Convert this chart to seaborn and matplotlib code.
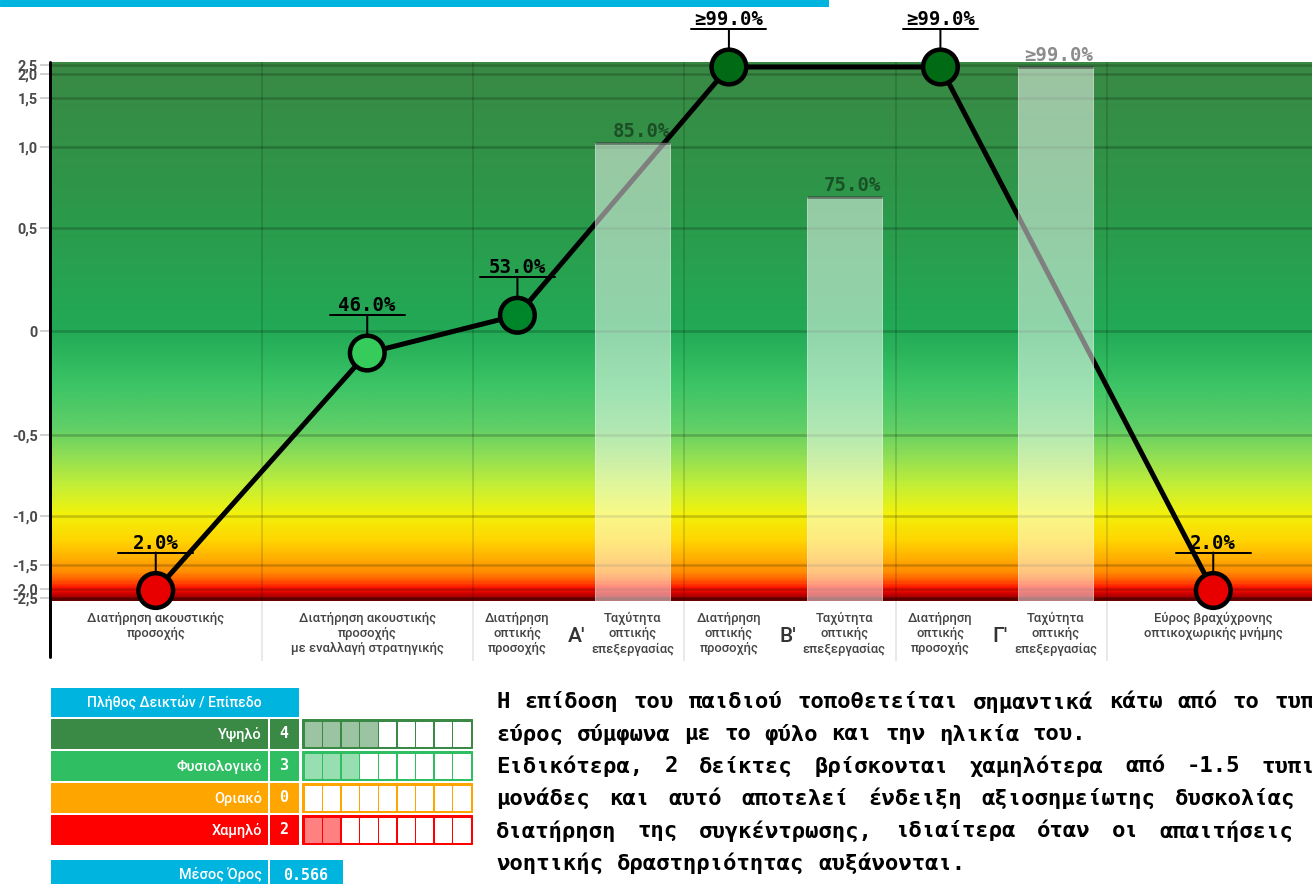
import textwrap
from math import erf, sqrt

import numpy as np
import matplotlib.pyplot as plt
import seaborn as sns
from matplotlib.colors import LinearSegmentedColormap, to_rgb
from matplotlib.patches import Rectangle
from matplotlib.transforms import offset_copy

# ---- data
columns = ['Διατήρηση ακουστικής\nπροσοχής',
           'Διατήρηση ακουστικής\nπροσοχής\nμε εναλλαγή στρατηγικής',
           'Α′', 'Β′', 'Γ′',
           'Εύρος βραχύχρονης\nοπτικοχωρικής μνήμης']
split_columns = ['Α′', 'Β′', 'Γ′']
split_left = 'Διατήρηση\nοπτικής\nπροσοχής'
split_right = 'Ταχύτητα\nοπτικής\nεπεξεργασίας'

point_pct = [2.0, 46.0, 53.0, 99.0, 99.0, 2.0]
point_text = ['2.0%', '46.0%', '53.0%', '≥99.0%', '≥99.0%', '2.0%']
point_colors = ['#e80000', '#36cc5c', '#00862a', '#006b14', '#006b14', '#e80000']

bar_pct = [85.0, 75.0, 99.0]
bar_text = ['85.0%', '75.0%', '≥99.0%']

z_ticks = [-2.5, -2.0, -1.5, -1.0, -0.5, 0, 0.5, 1.0, 1.5, 2.0, 2.5]
z_labels = ['-2,5', '-2,0', '-1,5', '-1,0', '-0,5', '0', '0,5', '1,0', '1,5', '2,0', '2,5']

levels = ['Υψηλό', 'Φυσιολογικό', 'Οριακό', 'Χαμηλό']
level_counts = [4, 3, 0, 2]
level_colors = ['#3a8a45', '#2fbe62', '#ffa500', '#ff0000']
n_indices = 9
mean_score = 0.566

paragraphs = [
    'Η επίδοση του παιδιού τοποθετείται σημαντικά κάτω από το τυπικό '
    'εύρος σύμφωνα με το φύλο και την ηλικία του.',
    'Ειδικότερα, 2 δείκτες βρίσκονται χαμηλότερα από -1.5 τυπικές '
    'μονάδες και αυτό αποτελεί ένδειξη αξιοσημείωτης δυσκολίας στη '
    'διατήρηση της συγκέντρωσης, ιδιαίτερα όταν οι απαιτήσεις της '
    'νοητικής δραστηριότητας αυξάνονται.',
]

# background colour stops (percentile, colour)
bg_stops = [(0, '#6e0000'), (1.0, '#d00000'), (2.2, '#ff1500'), (3.5, '#ff5500'),
            (5, '#ff8a00'), (7.6, '#ffae00'), (11, '#ffd500'), (16, '#f2f20c'),
            (21, '#c5ef35'), (26, '#96e052'), (32, '#60cf66'), (40, '#3cc466'),
            (50, '#22aa56'), (75, '#2d9749'), (100, '#3a8944')]

sns.set_theme(style='white')
plt.rcParams['font.family'] = ['Roboto', 'DejaVu Sans']
MONO = ['DejaVu Sans Mono']
CYAN = '#00b4e0'

W, H = 1312, 884
fig = plt.figure(figsize=(W / 72, H / 72), dpi=72)

# ---- main chart
ax_left, ax_bottom, ax_top = 50, 601.3, 61.6
col_w = 211.5
xmax = (W - ax_left) / col_w
ax = fig.add_axes([ax_left / W, 1 - ax_bottom / H, 1 - ax_left / W, (ax_bottom - ax_top) / H])

cmap = LinearSegmentedColormap.from_list('bg', [(p / 100, c) for p, c in bg_stops])
ax.imshow(np.linspace(0, 100, 600).reshape(-1, 1), extent=[0, xmax, 0, 100], origin='lower',
          aspect='auto', cmap=cmap, vmin=0, vmax=100, zorder=0)

tick_pct = [100 * 0.5 * (1 + erf(z / sqrt(2))) for z in z_ticks]
ax.hlines(tick_pct, 0, xmax, colors='black', alpha=0.2, lw=2.5, zorder=1)
ax.vlines(range(1, len(columns)), 0, 100, colors='black', alpha=0.13, lw=2, zorder=1)

point_x = [i + (0.21 if c in split_columns else 0.5) for i, c in enumerate(columns)]
bar_x = [i + 0.755 for i, c in enumerate(columns) if c in split_columns]
bar_w = 0.355

sns.lineplot(x=point_x, y=point_pct, color='black', linewidth=5, sort=False, ax=ax, zorder=3)

ax.bar(bar_x, bar_pct, width=bar_w, color='white', alpha=0.5, zorder=4)
for bx, bp, bt in zip(bar_x, bar_pct, bar_text):
    ax.hlines(bp, bx - bar_w / 2, bx + bar_w / 2, colors='#333333', alpha=0.6, lw=2.5, zorder=4)
    ax.text(bx + bar_w / 2, bp + 0.3, bt, ha='right', va='bottom', color='black', alpha=0.45,
            family=MONO, weight='bold', fontsize=19, zorder=5, clip_on=False)

# annotation "T" marks above the points
t_line = offset_copy(ax.transData, fig=fig, x=0, y=38, units='points')
for px, pp, pt in zip(point_x, point_pct, point_text):
    ax.plot([px - 0.177, px + 0.177], [pp, pp], transform=t_line, color='black', lw=2,
            clip_on=False, zorder=5)
    ax.annotate('', xy=(px, pp), xytext=(0, 38), textcoords='offset points',
                arrowprops=dict(arrowstyle='-', color='black', lw=2, shrinkA=0, shrinkB=0),
                annotation_clip=False, zorder=5)
    ax.annotate(pt, xy=(px, pp), xytext=(0, 38), textcoords='offset points', ha='center',
                va='bottom', fontsize=19, family=MONO, weight='bold', color='black',
                annotation_clip=False, zorder=5)

sns.scatterplot(x=point_x, y=point_pct, hue=[str(i) for i in range(len(point_x))],
                palette=dict(zip([str(i) for i in range(len(point_x))], point_colors)),
                s=1200, linewidth=4.5, edgecolor='black', legend=False, ax=ax, zorder=6,
                clip_on=False)

ax.set_xlim(0, xmax)
ax.set_ylim(0, 100)
ax.set_xticks([])
ax.set_yticks(tick_pct)
ax.set_yticklabels(z_labels, fontweight='bold')
ax.tick_params(axis='y', left=True, length=10, width=2, color='#d0d0d0', labelsize=14.5,
               labelcolor='#4a4a4a', pad=2)
for s in ax.spines.values():
    s.set_visible(False)
ax.axvline(0, ymin=-0.104, ymax=1.0, color='black', lw=3, clip_on=False, zorder=7)
ax.vlines(range(1, len(columns)), -0.11, 0, transform=ax.get_xaxis_transform(),
          colors='#e2e2e2', lw=1.5, clip_on=False)

# x labels
lab_kw = dict(xycoords=('data', 'axes fraction'), textcoords='offset points', ha='center',
              va='top', fontsize=13, weight='medium', color='#444444', linespacing=1.2,
              annotation_clip=False)
for i, c in enumerate(columns):
    if c in split_columns:
        ax.annotate(split_left, xy=(i + 0.21, 0), xytext=(0, -11), **lab_kw)
        ax.annotate(split_right, xy=(i + 0.755, 0), xytext=(0, -11), **lab_kw)
        ax.annotate(c, xy=(i + 0.49, 0), xytext=(0, -35), xycoords=('data', 'axes fraction'),
                    textcoords='offset points', ha='center', va='center', fontsize=21,
                    weight='medium', color='#333333', annotation_clip=False)
    else:
        ax.annotate(c, xy=(i + 0.5, 0), xytext=(0, -11), **lab_kw)

# ---- bottom panel in pixel coordinates
tab = fig.add_axes([0, 0, 1, 1], zorder=-1)
tab.set_xlim(0, W)
tab.set_ylim(H, 0)
tab.axis('off')

tab.add_patch(Rectangle((0, 0), 828, 6, color=CYAN))

tab.add_patch(Rectangle((51, 688), 247, 28, color=CYAN))
tab.text(174, 702.5, 'Πλήθος Δεικτών / Επίπεδο', ha='center', va='center', color='white',
         fontsize=14, weight='medium')
for k, (lvl, cnt, col) in enumerate(zip(levels, level_counts, level_colors)):
    y0 = 719 + k * 32
    tab.add_patch(Rectangle((51, y0), 216, 29, color=col))
    tab.add_patch(Rectangle((270, y0), 28, 29, color=col))
    tab.add_patch(Rectangle((302, y0), 170, 29, color=col))
    light = tuple(0.5 * np.array(to_rgb(col)) + 0.5)
    for j in range(n_indices):
        tab.add_patch(Rectangle((304.5 + j * 18.6, y0 + 2.5), 16.3, 24,
                                color=light if j < cnt else 'white'))
    tab.text(262, y0 + 15, lvl, ha='right', va='center', color='white', fontsize=14.5,
             weight='medium')
    tab.text(284, y0 + 15, str(cnt), ha='center', va='center', color='white', fontsize=15,
             family=MONO, weight='bold')

tab.add_patch(Rectangle((51, 860), 216, 30, color=CYAN))
tab.add_patch(Rectangle((270, 860), 72, 30, color=CYAN))
tab.text(262, 875, 'Μέσος Όρος', ha='right', va='center', color='white', fontsize=14.5,
         weight='medium')
tab.text(306, 875, f'{mean_score:.3f}', ha='center', va='center', color='white', fontsize=15,
         family=MONO, weight='bold')

# justified monospace paragraph
fs = 22.3
char_w = 0.602 * fs
width_chars = 64
y = 702
for para in paragraphs:
    lines = textwrap.wrap(para, width_chars)
    for li, line in enumerate(lines):
        words = line.split(' ')
        last = li == len(lines) - 1
        gap = 1 if last or len(words) < 2 else (width_chars - sum(len(w) for w in words)) / (len(words) - 1)
        x = 496
        for w in words:
            tab.text(x, y, w, ha='left', va='center', fontsize=fs, family=MONO, weight='bold',
                     color='black')
            x += (len(w) + gap) * char_w
        y += 32.2

fig.savefig('out.png', dpi=72)
